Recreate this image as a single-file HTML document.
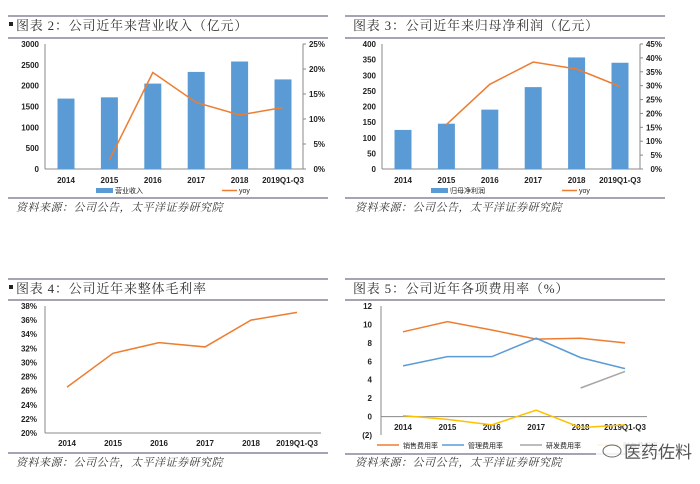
<!DOCTYPE html>
<html><head><meta charset="utf-8">
<style>
html,body{margin:0;padding:0;background:#fff;}
svg{display:block;font-family:"Liberation Sans","Noto Sans CJK SC",sans-serif;}
.t{font-family:"Liberation Serif","Noto Serif CJK SC",serif;font-size:13px;fill:#333;letter-spacing:0.8px;}
.s{font-family:"Liberation Serif","Noto Serif CJK SC",serif;font-size:11px;font-style:italic;fill:#333;letter-spacing:0.5px;}
.k{font-size:8px;font-weight:bold;fill:#222;}
.l{font-size:7px;fill:#222;}
</style></head>
<body>
<svg id="svg" width="700" height="484" viewBox="0 0 700 484">
<g stroke="#4a4a6a" stroke-width="1">
<line x1="8" y1="16" x2="328" y2="16"/><line x1="8" y1="38" x2="328" y2="38"/><line x1="8" y1="198" x2="328" y2="198"/>
<line x1="345" y1="16" x2="665" y2="16"/><line x1="345" y1="38" x2="665" y2="38"/><line x1="345" y1="198" x2="665" y2="198"/>
<line x1="8" y1="279" x2="328" y2="279"/><line x1="8" y1="300" x2="328" y2="300"/><line x1="8" y1="453" x2="328" y2="453"/>
<line x1="345" y1="279" x2="665" y2="279"/><line x1="345" y1="300" x2="665" y2="300"/><line x1="345" y1="454" x2="665" y2="454"/>
</g>
<rect x="9" y="22" width="4" height="4" fill="#222"/>
<text class="t" x="16" y="30">图表 2：公司近年来营业收入（亿元）</text>
<text class="t" x="353" y="30">图表 3：公司近年来归母净利润（亿元）</text>
<rect x="9" y="285" width="4" height="4" fill="#222"/>
<text class="t" x="16" y="293">图表 4：公司近年来整体毛利率</text>
<text class="t" x="353" y="293">图表 5：公司近年各项费用率（%）</text>
<text class="s" x="16" y="211">资料来源：公司公告，太平洋证券研究院</text>
<text class="s" x="355" y="211">资料来源：公司公告，太平洋证券研究院</text>
<text class="s" x="16" y="466">资料来源：公司公告，太平洋证券研究院</text>
<text class="s" x="355" y="466">资料来源：公司公告，太平洋证券研究院</text>
<g id="c"></g>
<g>
<rect x="596" y="438" width="86" height="24" fill="#fff" opacity="0.85"/>
<ellipse cx="612" cy="451" rx="9" ry="6" fill="none" stroke="#666"/>
<text x="624" y="458" font-size="17" fill="#555" font-family="Noto Sans CJK SC,sans-serif">医药佐料</text>
</g>
</svg>
<script>
const cats=["2014","2015","2016","2017","2018","2019Q1-Q3"];
const revenue=[1690,1720,2050,2330,2580,2150];
const revYoy=[null,1.8,19.3,13.3,10.8,12.3];
const profit=[125,145,190,262,357,340];
const profitYoy=[null,16,30.5,38.5,36,29.7];
const gross=[26.5,31.3,32.8,32.2,36.0,37.1];
const salesRate=[9.2,10.3,9.4,8.4,8.5,8.0];
const mgmtRate=[5.5,6.5,6.5,8.5,6.4,5.2];
const rdRate=[null,null,null,null,3.1,4.9];
const finRate=[0.1,-0.3,-0.9,0.7,-1.2,-0.9];
const NS="http://www.w3.org/2000/svg";
const root=document.getElementById('c');
function el(t,a,p){const e=document.createElementNS(NS,t);for(const k in a)e.setAttribute(k,a[k]);(p||root).appendChild(e);return e;}
function txt(x,y,s,cls,anchor,p,fill){const e=el('text',{x:x,y:y,class:cls,'text-anchor':anchor||'middle'},p);if(fill)e.setAttribute('fill',fill);e.textContent=s;return e;}
function lin(d0,d1,r0,r1){return v=>r0+(v-d0)/(d1-d0)*(r1-r0);}
function poly(vals,xf,yf,color,name,p){let pts=[];vals.forEach((v,i)=>{if(v!==null)pts.push(xf(i)+','+yf(v));});
 const e=el('polyline',{points:pts.join(' '),fill:'none',stroke:color,'stroke-width':1.5},p);
 
 }
function barChart(cfg){
 const g=el('g',{});
 
 
 const x=i=>cfg.x0+i*cfg.dx;
 const y=lin(0,cfg.max,cfg.yb,cfg.yt);
 const y2=lin(0,cfg.max2,cfg.yb,cfg.yt);
 el('line',{x1:cfg.ax,y1:cfg.yt,x2:cfg.ax,y2:cfg.yb,stroke:'#888'},g);
 el('line',{x1:cfg.rx,y1:cfg.yt,x2:cfg.rx,y2:cfg.yb,stroke:'#888'},g);
 el('line',{x1:cfg.ax,y1:cfg.yb,x2:cfg.rx,y2:cfg.yb,stroke:'#888'},g);
 for(let v=0;v<=cfg.max;v+=cfg.step) txt(cfg.ax-6,y(v)+3,String(v),'k','end',g);
 for(let v=0;v<=cfg.max2;v+=5){txt(cfg.rx+22,y2(v)+3,v+'%','k','end',g);el('line',{x1:cfg.rx,y1:y2(v),x2:cfg.rx+3,y2:y2(v),stroke:'#888'},g);}
 cfg.vals.forEach((v,i)=>{const b=el('rect',{x:x(i)-8.5,y:y(v),width:17,height:cfg.yb-y(v),fill:'#5b9bd5'},g);
  
  
  txt(x(i),cfg.yb+14,cats[i],'k','middle',g);});
 poly(cfg.yoy,x,y2,'#ed7d31','yoy-line',g);
 el('rect',{x:cfg.lx,y:188,width:17,height:5,fill:'#5b9bd5'},g);
 txt(cfg.lx+19,193,cfg.label,'l','start',g);
 el('line',{x1:cfg.lx2,y1:190.5,x2:cfg.lx2+15,y2:190.5,stroke:'#ed7d31','stroke-width':1.5},g);
 txt(cfg.lx2+17,193,'yoy','l','start',g);
}
barChart({name:'revenue-chart',x0:66,dx:43.4,ax:45,rx:303,yt:44,yb:169,max:3000,step:500,max2:25,vals:revenue,yoy:revYoy,lx:96,label:'营业收入',lx2:222});
barChart({name:'profit-chart',x0:403,dx:43.4,ax:382,rx:640,yt:44,yb:169,max:400,step:50,max2:45,vals:profit,yoy:profitYoy,lx:431,label:'归母净利润',lx2:562});
(function(){const g=el('g',{});
 
 
 const x=i=>67+i*46;const y=lin(20,38,433,306);
 el('line',{x1:45,y1:306,x2:45,y2:433,stroke:'#888'},g);el('line',{x1:45,y1:433,x2:321,y2:433,stroke:'#888'},g);
 for(let v=20;v<=38;v+=2)txt(37,y(v)+3,v+'%','k','end',g);
 cats.forEach((c,i)=>txt(x(i),446,c,'k','middle',g));
 poly(gross,x,y,'#ed7d31','gross-margin-line',g);})();
(function(){const g=el('g',{});
 
 
 const x=i=>403+i*44.4;const y=lin(-2,12,435,306);
 el('line',{x1:381,y1:306,x2:381,y2:435,stroke:'#888'},g);el('line',{x1:381,y1:y(0),x2:647,y2:y(0),stroke:'#888'},g);
 for(let v=0;v<=12;v+=2)txt(372,y(v)+3,String(v),'k','end',g);
 txt(372,y(-2)+3,'(2)','k','end',g,'#c00000');
 cats.forEach((c,i)=>txt(x(i),430,c,'k','middle',g));
 const ser=[[salesRate,'#ed7d31','销售费用率',377],[mgmtRate,'#5b9bd5','管理费用率',442],[rdRate,'#a5a5a5','研发费用率',520],[finRate,'#ffc000','财务费用率',597]];
 ser.forEach(s=>{poly(s[0],x,y,s[1],'line-'+s[2],g);
  el('line',{x1:s[3],y1:445,x2:s[3]+22,y2:445,stroke:s[1],'stroke-width':1.5},g);
  txt(s[3]+26,448,s[2],'l','start',g);});})();
</script>
</body></html>
